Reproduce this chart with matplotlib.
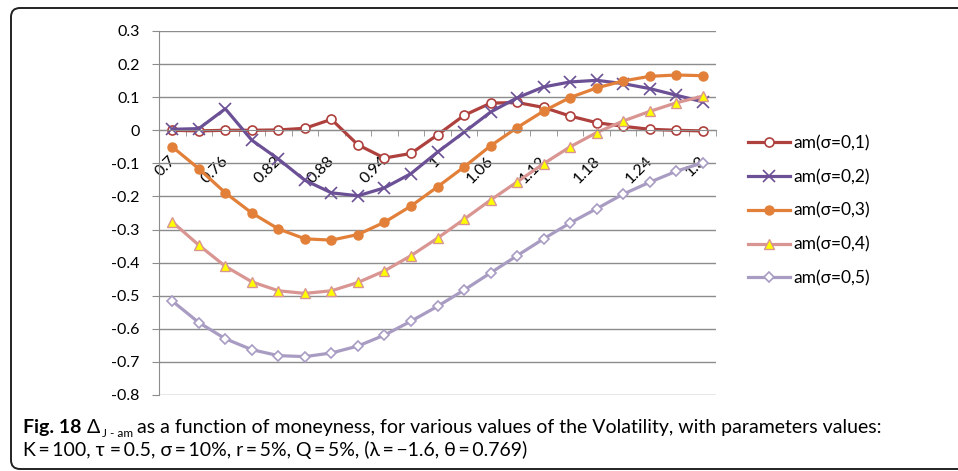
import numpy as np
import matplotlib
matplotlib.use("Agg")
import matplotlib.pyplot as plt
from matplotlib.patches import FancyBboxPatch
from matplotlib.transforms import IdentityTransform, ScaledTranslation

plt.rcParams['font.family'] = ['Lato', 'DejaVu Sans']

# -------------------------------
# Data
# -------------------------------
moneyness = ["0.7", "0.73", "0.76", "0.79", "0.82", "0.85", "0.88", "0.91", "0.94", "0.97", "1",
             "1.03", "1.06", "1.09", "1.12", "1.15", "1.18", "1.21", "1.24", "1.27", "1.3"]

am_01 = [0.000, -0.002, 0.000, 0.000, 0.001, 0.006, 0.033, -0.044, -0.084, -0.070, -0.014,
         0.045, 0.082, 0.084, 0.069, 0.043, 0.023, 0.012, 0.003, 0.000, -0.002]
am_02 = [0.003, 0.005, 0.065, -0.030, -0.087, -0.151, -0.189, -0.198, -0.174, -0.131, -0.066,
         -0.006, 0.055, 0.098, 0.131, 0.146, 0.151, 0.141, 0.126, 0.106, 0.086]
am_03 = [-0.050, -0.116, -0.189, -0.250, -0.298, -0.328, -0.332, -0.315, -0.278, -0.229, -0.171,
         -0.111, -0.047, 0.008, 0.058, 0.099, 0.128, 0.149, 0.163, 0.167, 0.165]
am_04 = [-0.277, -0.347, -0.411, -0.458, -0.485, -0.493, -0.485, -0.460, -0.425, -0.379, -0.326,
         -0.269, -0.211, -0.156, -0.101, -0.050, -0.007, 0.028, 0.057, 0.083, 0.103]
am_05 = [-0.516, -0.581, -0.630, -0.663, -0.681, -0.684, -0.673, -0.652, -0.619, -0.577, -0.532,
         -0.483, -0.431, -0.379, -0.328, -0.280, -0.237, -0.193, -0.157, -0.124, -0.098]

labels = ["am(σ=0,1)", "am(σ=0,2)", "am(σ=0,3)", "am(σ=0,4)", "am(σ=0,5)"]
yticks = [-0.8, -0.7, -0.6, -0.5, -0.4, -0.3, -0.2, -0.1, 0.0, 0.1, 0.2, 0.3]
ytick_labels = ["-0.8", "-0.7", "-0.6", "-0.5", "-0.4", "-0.3", "-0.2", "-0.1", "0", "0.1", "0.2", "0.3"]

styles = [
    dict(color="#AE403D", marker="o", ms=6.5, mfc="white", mec="#AE403D", mew=1.2),
    dict(color="#6B5096", marker="x", ms=9, mec="#6B5096", mew=1.2),
    dict(color="#E2803A", marker="o", ms=6.5, mfc="#E2803A", mec="#E2803A"),
    dict(color="#D99592", marker="^", ms=7.5, mfc="#FFFF00", mec="#D99592", mew=1.0),
    dict(color="#A99CC3", marker="D", ms=5.5, mfc="white", mec="#A99CC3", mew=1.2),
]

# -------------------------------
# Figure
# -------------------------------
W, H = 958, 471
fig = plt.figure(figsize=(W / 100, H / 100), dpi=100)
ax = fig.add_axes([159 / W, 1 - 395 / H, (716 - 159) / W, (395 - 31) / H])

idx = np.arange(len(moneyness))
for vals, lab, st in zip([am_01, am_02, am_03, am_04, am_05], labels, styles):
    ax.plot(idx, vals, lw=2.3, label=lab, **st)

grid_c = "#8C8C8C"
tick_fs = 11.5
ax.set_xlim(-0.5, len(moneyness) - 0.5)
ax.set_ylim(-0.8, 0.3)
ax.set_yticks(yticks)
ax.set_yticklabels(ytick_labels, fontsize=tick_fs)
ax.yaxis.grid(True, color=grid_c, lw=1)
ax.set_axisbelow(True)

for s in ["top", "right"]:
    ax.spines[s].set_visible(False)
ax.spines["left"].set_color(grid_c)
ax.spines["bottom"].set_color(grid_c)
ax.spines["bottom"].set_position(("data", 0))

ax.set_xticks(idx[::2])
ax.set_xticklabels(moneyness[::2], rotation=45, ha="right", fontsize=tick_fs)
ax.set_xticks(np.arange(-0.5, len(moneyness), 1), minor=True)
ax.tick_params(axis="x", which="major", length=0, pad=17)
ax.tick_params(axis="x", which="minor", length=4, color=grid_c)
ax.tick_params(axis="y", length=5, color=grid_c, pad=9)

# nudge the rotated labels a little to the right, like the original
shift = ScaledTranslation(6 / 100, 0, fig.dpi_scale_trans)
for lbl in ax.get_xticklabels():
    lbl.set_transform(lbl.get_transform() + shift)

ax.legend(loc="upper left", bbox_to_anchor=(748 / W, 1 - 135 / H), bbox_transform=fig.transFigure,
          frameon=False, borderpad=0, borderaxespad=0, handlelength=2.4, handletextpad=0.2,
          labelspacing=1.02, fontsize=12.5)

# -------------------------------
# Caption and frame (on an overlay axes)
# -------------------------------
cax = fig.add_axes([0, 0, 1, 1])
cax.axis("off")

ts = "\u2009"
cap_fs = 14
y1 = 1 - 433 / H
y2 = 1 - 456 / H
t = cax.text(23 / W, y1, "Fig. 18", fontsize=cap_fs, weight="bold", va="baseline",
             transform=fig.transFigure)
t = cax.annotate("Δ", xy=(1, y1), xycoords=(t, "figure fraction"), xytext=(4, 0),
                 textcoords="offset points", fontsize=cap_fs, va="baseline")
t = cax.annotate("J - am", xy=(1, y1), xycoords=(t, "figure fraction"), xytext=(1, -3),
                 textcoords="offset points", fontsize=8.5, va="baseline")
cax.annotate("as a function of moneyness, for various values of the Volatility, with parameters values:",
             xy=(1, y1), xycoords=(t, "figure fraction"), xytext=(3, 0),
             textcoords="offset points", fontsize=cap_fs, va="baseline")
line2 = (f"K{ts}={ts}100, τ ={ts}0.5, σ{ts}={ts}10%, r{ts}={ts}5%, Q{ts}={ts}5%, "
         f"(λ{ts}={ts}−1.6, θ{ts}={ts}0.769)")
cax.text(23 / W, y2, line2, fontsize=cap_fs, va="baseline", transform=fig.transFigure)

frame = FancyBboxPatch((11, 2), 1000, 461, boxstyle="round,pad=0,rounding_size=9",
                       transform=IdentityTransform(), fill=False, lw=1.4, ec="#222222")
fig.add_artist(frame)

fig.savefig("out.png", dpi=100)
